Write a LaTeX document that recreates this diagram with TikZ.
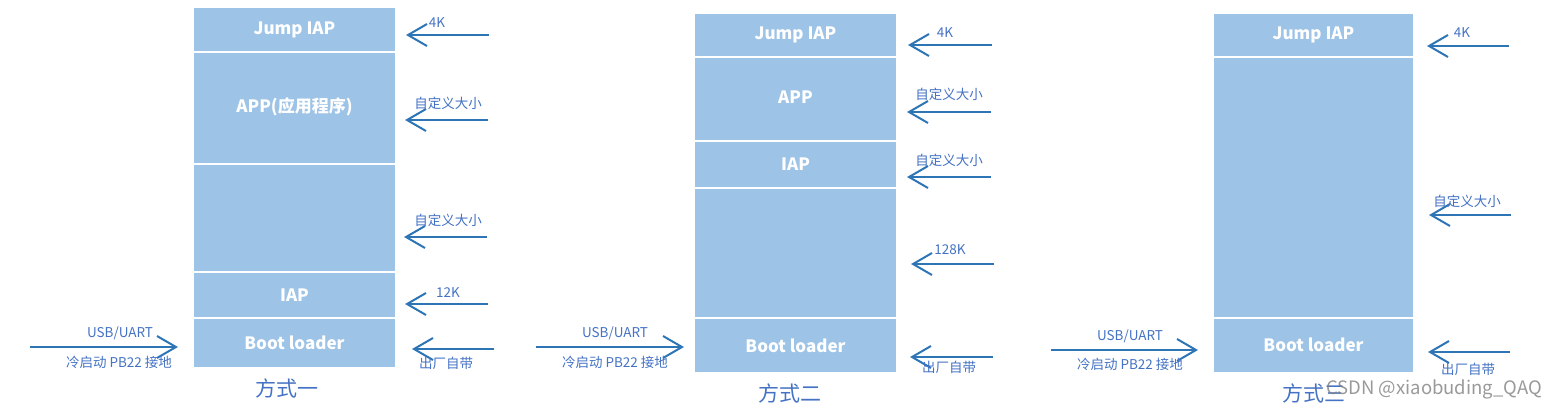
\documentclass[tikz,border=0pt]{standalone}
\usepackage{fontspec}
\setmainfont{Noto Sans CJK SC}
\usepackage{xcolor}
\usepackage{tikz}
\usetikzlibrary{arrows.meta}

\definecolor{boxblue}{RGB}{157,195,230}
\definecolor{arrowblue}{RGB}{46,117,182}
\definecolor{textblue}{RGB}{68,114,196}

\begin{document}
\begin{tikzpicture}[x=1pt, y=-1pt,
    seg/.style={fill=boxblue, draw=white, line width=2pt, inner sep=0pt,
        text=white, font=\fontsize{17}{20}\selectfont\bfseries},
    arr/.style={draw=arrowblue, line width=2pt,
        -{Straight Barb[length=19pt, width=22pt, line width=2pt]}},
    lbl/.style={text=textblue, inner sep=0pt, font=\fontsize{13.5}{16}\selectfont},
    title/.style={text=textblue, inner sep=0pt, font=\fontsize{21}{24}\selectfont}]
    \useasboundingbox (0,0) rectangle (1555,408);

    % 方式一
    \node[seg, minimum width=203pt, minimum height=45pt] (jump1) at (294.5,29.5) {Jump IAP};
    \node[seg, minimum width=203pt, minimum height=112pt] (app1) at (294.5,108) {\raisebox{5pt}{APP(应用程序)}};
    \node[seg, minimum width=203pt, minimum height=108pt] (free1) at (294.5,218) {};
    \node[seg, minimum width=203pt, minimum height=46pt] (iap1) at (294.5,295) {IAP};
    \node[seg, minimum width=203pt, minimum height=50pt] (boot1) at (294.5,343) {Boot loader};
    \node[title] (way1) at (287,388) {方式一};

    \coordinate (a1s) at (489,35);  \coordinate (a1e) at (406,35);
    \coordinate (a2s) at (488,120); \coordinate (a2e) at (405,120);
    \coordinate (a3s) at (487,237); \coordinate (a3e) at (404,237);
    \coordinate (a4s) at (488,304); \coordinate (a4e) at (405,304);
    \coordinate (a5s) at (494,349); \coordinate (a5e) at (412,349);
    \coordinate (u1s) at (30,347);  \coordinate (u1e) at (178,347);

    \draw[arr] (a1s) -- (a1e);
    \draw[arr] (a2s) -- (a2e);
    \draw[arr] (a3s) -- (a3e);
    \draw[arr] (a4s) -- (a4e);
    \draw[arr] (a5s) -- (a5e);
    \draw[arr] (u1s) -- (u1e);

    \node[lbl] (k1) at (437,23) {4K};
    \node[lbl] (size1) at (448,103) {自定义大小};
    \node[lbl] (size1b) at (448,220) {自定义大小};
    \node[lbl] (k12) at (448,293) {12K};
    \node[lbl] (fac1) at (446,363) {出厂自带};
    \node[lbl] (usb1) at (120,333) {USB/UART};
    \node[lbl] (cold1) at (119,362) {冷启动 PB22 接地};

    % 方式二
    \node[seg, minimum width=203pt, minimum height=44pt] (jump2) at (795.5,35) {Jump IAP};
    \node[seg, minimum width=203pt, minimum height=84pt] (app2) at (795.5,99) {\raisebox{4pt}{APP}};
    \node[seg, minimum width=203pt, minimum height=47pt] (iap2) at (795.5,164.5) {IAP};
    \node[seg, minimum width=203pt, minimum height=130pt] (free2) at (795.5,253) {};
    \node[seg, minimum width=203pt, minimum height=55pt] (boot2) at (795.5,345.5) {Boot loader};
    \node[title] (way2) at (790,393) {方式二};

    \coordinate (b1s) at (992,45);  \coordinate (b1e) at (908,45);
    \coordinate (b2s) at (991,112); \coordinate (b2e) at (907,112);
    \coordinate (b3s) at (991,177); \coordinate (b3e) at (907,177);
    \coordinate (b4s) at (994,264); \coordinate (b4e) at (911,264);
    \coordinate (b5s) at (993,357); \coordinate (b5e) at (910,357);
    \coordinate (u2s) at (536,347); \coordinate (u2e) at (684,347);

    \draw[arr] (b1s) -- (b1e);
    \draw[arr] (b2s) -- (b2e);
    \draw[arr] (b3s) -- (b3e);
    \draw[arr] (b4s) -- (b4e);
    \draw[arr] (b5s) -- (b5e);
    \draw[arr] (u2s) -- (u2e);

    \node[lbl] (k2) at (945,33) {4K};
    \node[lbl] (size2) at (949,94) {自定义大小};
    \node[lbl] (size2b) at (949,160) {自定义大小};
    \node[lbl] (k128) at (950,250) {128K};
    \node[lbl] (fac2) at (949,367) {出厂自带};
    \node[lbl] (usb2) at (615,333) {USB/UART};
    \node[lbl] (cold2) at (615,362) {冷启动 PB22 接地};

    % 方式三
    \node[seg, minimum width=201pt, minimum height=44pt] (jump3) at (1313.5,35) {Jump IAP};
    \node[seg, minimum width=201pt, minimum height=261pt] (free3) at (1313.5,187.5) {};
    \node[seg, minimum width=201pt, minimum height=55pt] (boot3) at (1313.5,345.5) {\raisebox{2pt}{Boot loader}};
    \node[title] (way3) at (1314,393) {方式三};

    \coordinate (c1s) at (1509,46);  \coordinate (c1e) at (1427,46);
    \coordinate (c2s) at (1511,215); \coordinate (c2e) at (1429,215);
    \coordinate (c3s) at (1510,352); \coordinate (c3e) at (1428,352);
    \coordinate (u3s) at (1051,350); \coordinate (u3e) at (1198,350);

    \draw[arr] (c1s) -- (c1e);
    \draw[arr] (c2s) -- (c2e);
    \draw[arr] (c3s) -- (c3e);
    \draw[arr] (u3s) -- (u3e);

    \node[lbl] (k3) at (1462,33) {4K};
    \node[lbl] (size3) at (1467,201) {自定义大小};
    \node[lbl] (fac3) at (1468,369) {出厂自带};
    \node[lbl] (usb3) at (1130,336) {USB/UART};
    \node[lbl] (cold3) at (1130,364) {冷启动 PB22 接地};

    \node[text=gray, opacity=0.8, inner sep=0pt, font=\fontsize{18.5}{21}\selectfont] (mark) at (1434,389) {CSDN @xiaobuding\_QAQ};
\end{tikzpicture}
\end{document}
